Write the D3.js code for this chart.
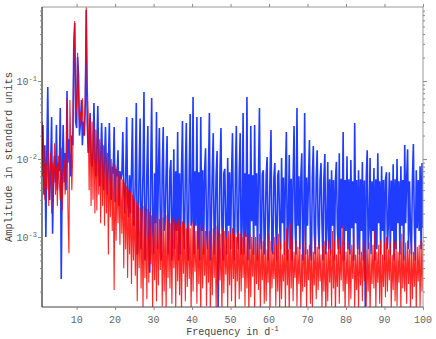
<!DOCTYPE html>
<html>
<head>
<meta charset="utf-8">
<script src="https://cdn.jsdelivr.net/npm/d3@7"></script>
<style>
    body { margin: 0; background: #fff; }
    text { font-family: 'Liberation Mono', 'DejaVu Sans Mono', monospace; }
</style>
</head>
<body>
<svg id="chart" width="436" height="339"></svg>
<script>
// both spectra are sampled on the same frequency grid (d^-1)
const freqStart = 1;
const freqStep = 0.25;

// blue spectrum, amplitude in units of 1e-4, two frequency units per row
const blueAmp = [
    190, 273, 35, 150, 10, 120, 838, 60,        // 1
    30, 80, 345, 11, 60, 110, 50, 273,          // 3
    40, 90, 70, 451, 2.9, 60, 273, 50,          // 5
    120, 40, 744, 90, 180, 100, 60, 200,        // 7
    150, 2650, 5550, 300, 250, 2030, 1200, 200, // 9
    300, 570, 150, 300, 200, 500, 8130, 300,    // 11
    120, 150, 389, 110, 80, 130, 522, 95,       // 13
    60, 140, 478, 90, 45, 110, 290, 80,         // 15
    40, 100, 257, 70, 35, 90, 290, 65,          // 17
    30, 80, 65, 257, 28, 75, 60, 130,           // 19
    25, 70, 55, 65, 222, 40, 20, 60,            // 21
    345, 30, 18, 62, 20, 70, 336, 15,           // 23
    14, 60, 522, 6, 12, 75, 330, 7,             // 25
    18, 70, 723, 5, 13, 68, 265, 8,             // 27
    3.5, 72, 605, 14, 6, 66, 15, 400,           // 29
    7, 70, 250, 15, 5, 75, 257, 12,             // 31
    16, 68, 197, 6, 10, 72, 97, 5,              // 33
    15, 134, 7, 70, 12, 222, 5, 66,             // 35
    6, 72, 307, 15, 7, 70, 290, 13,             // 37
    5, 66, 378, 14, 16, 624, 6, 70,             // 39
    14, 345, 7, 68, 5, 345, 12, 72,             // 41
    6, 70, 138, 13, 7, 68, 389, 5,              // 43
    14, 72, 215, 6, 13, 65, 127, 1.2,           // 45
    7, 70, 250, 14, 5, 66, 75, 13,              // 47
    6, 103, 14, 68, 7, 62, 215, 13,             // 49
    5, 64, 265, 12, 7, 68, 215, 6,              // 51
    14, 389, 6, 66, 10, 624, 5, 64,             // 53
    7, 265, 16, 62, 6, 273, 14, 66,             // 55
    5, 60, 451, 12, 7, 64, 72, 6,               // 57
    11, 62, 106, 5, 13, 60, 235, 7,             // 59
    6, 58, 89, 13, 5, 62, 72, 14,               // 61
    7, 103, 15, 58, 6, 60, 222, 5,              // 63
    16, 113, 7, 56, 5, 58, 265, 15,             // 65
    6, 451, 14, 60, 7, 56, 119, 5,              // 67
    12, 389, 6, 58, 14, 55, 175, 7,             // 69
    5, 58, 147, 12, 6, 56, 130, 14,             // 71
    7, 54, 89, 15, 5, 58, 116, 6,               // 73
    13, 92, 7, 55, 6, 72, 14, 54,               // 75
    5, 56, 92, 13, 7, 119, 6, 56,               // 77
    13, 222, 5, 54, 12, 109, 7, 55,             // 79
    6, 97, 13, 52, 5, 290, 15, 54,              // 81
    7, 72, 6, 55, 12, 92, 5, 53,                // 83
    1.2, 56, 130, 7, 13, 103, 6, 52,            // 85
    12, 77, 5, 55, 7, 119, 15, 52,              // 87
    6, 81, 12, 54, 5, 55, 68, 7,                // 89
    15, 68, 6, 53, 12, 86, 5, 55,               // 91
    7, 100, 15, 52, 6, 81, 14, 54,              // 93
    5, 151, 15, 55, 134, 7, 52, 12,             // 95
    6, 56, 156, 14, 5, 72, 13, 54,              // 97
    12, 81, 7, 89, 13                           // 99
];

// red spectrum, amplitude in units of 1e-4
const redAmp = [
    300, 60, 150, 30, 90, 40, 200, 25,          // 1
    70, 120, 20, 90, 45, 160, 35, 80,           // 3
    25, 110, 50, 30, 140, 22, 70, 100,          // 5
    35, 60, 600, 20, 6.2, 570, 150, 40,         // 7
    120, 2600, 5900, 350, 500, 2300, 600, 250,  // 9
    400, 300, 600, 250, 200, 700, 8900, 900,    // 11
    400, 40, 350, 25, 300, 30, 260, 20,         // 13
    240, 22, 200, 35, 180, 15, 170, 25,         // 15
    150, 14, 130, 20, 120, 6, 110, 18,          // 17
    100, 12, 90, 2.1, 85, 9, 80, 15,            // 19
    70, 8, 60, 11, 55, 4, 50, 7,                // 21
    45, 3, 40, 6, 38, 2.5, 35, 5,               // 23
    30, 3.2, 28, 1.5, 26, 4, 24, 2.2,           // 25
    22, 1.2, 25, 3, 20, 1.6, 23, 2.6,           // 27
    21, 4.5, 19, 1.1, 22, 2.8, 18, 1.5,         // 29
    20, 2.4, 17, 3.8, 21, 1.3, 18, 2,           // 31
    16, 1.1, 19, 3, 17, 2.2, 15, 1.4,           // 33
    18, 4, 16, 1.2, 15, 2.7, 17, 1.8,           // 35
    14, 1, 16, 3.4, 15, 1.5, 13, 2.3,           // 37
    15, 2.9, 13, 1.1, 16, 2, 14, 3.6,           // 39
    12, 1.4, 14, 2.5, 13, 1, 15, 2.2,           // 41
    13, 3.2, 12, 1.3, 14, 2.6, 12, 1.1,         // 43
    11, 1.8, 13, 3, 12, 1.2, 14, 2.4,           // 45
    12, 2.8, 11, 1, 13, 1.9, 12, 3.3,           // 47
    10, 1.2, 12, 2.4, 11, 1.5, 13, 2.9,         // 49
    11, 1.1, 10, 2.7, 12, 1.6, 11, 2,           // 51
    10, 3, 12, 1.3, 11, 2.2, 10, 1,             // 53
    11, 1.7, 10, 3.1, 12, 1.2, 10, 2.5,         // 55
    9.5, 2.1, 11, 1.1, 10, 2.8, 9, 1.4,         // 57
    10, 1.5, 7, 2.6, 11, 1, 9, 2.2,             // 59
    6.5, 2.9, 10, 1.3, 8, 2, 11, 1.1,           // 61
    8.5, 1.6, 6, 2.7, 9, 1.2, 13, 2.4,          // 63
    7, 1, 15, 2.2, 9.5, 1.5, 6.5, 3,            // 65
    9, 1.3, 7.5, 2.5, 8.5, 1.1, 6, 2,           // 67
    13, 2.3, 8.5, 1.2, 7, 2.8, 8, 1.4,          // 69
    9.5, 1.1, 6.5, 2.4, 10, 1.6, 7.5, 2.1,      // 71
    8.5, 2.7, 6, 1.2, 8, 2, 9, 1,               // 73
    6.5, 1.5, 9, 2.6, 7, 1.3, 12, 2.2,          // 75
    9, 1, 6, 2.3, 9.5, 1.4, 7.5, 2.8,           // 77
    14, 2, 9, 1.1, 6.5, 2.5, 8.5, 1.3,          // 79
    7, 1.6, 8, 2.9, 11, 1.2, 6, 2.1,            // 81
    8, 1.1, 9, 2.4, 6.5, 1.5, 8.5, 2.7,         // 83
    9, 1.3, 7, 2, 8.5, 1, 6, 2.5,               // 85
    8, 2.2, 12, 1.2, 6.5, 2.6, 8, 1.4,          // 87
    9, 1.1, 6, 2.3, 8.5, 1.7, 10, 2,            // 89
    7, 2.8, 8.5, 1.2, 6, 2.1, 9, 1.5,           // 91
    8.5, 1.3, 6.5, 2.6, 9, 1.1, 11, 2.2,        // 93
    6, 2, 8.5, 1.4, 9, 2.5, 7, 1.2,             // 95
    8.5, 1.6, 6.5, 2.3, 9, 1.1, 7.5, 2.7,       // 97
    8, 1.3, 9, 2, 8.5                           // 99
];

const xTicks = [10, 20, 30, 40, 50, 60, 70, 80, 90, 100];
const yMajorTicks = [1e-3, 1e-2, 1e-1];
const yTickExponents = ['-3', '-2', '-1'];

const Plot = {left: 42, right: 423, top: 7, bottom: 307};

let svg = d3.select('#chart');

let x = d3.scaleLinear().domain([1, 100]).range([Plot.left, Plot.right]);
let y = d3.scaleLog().domain([1.27e-4, 0.89]).range([Plot.bottom, Plot.top]);

function toPoints(amp) {
    return amp.map(function(a, i) { return [freqStart + i * freqStep, a * 1e-4]; });
}

svg.append('defs').append('clipPath')
    .attr('id', 'plot-clip')
    .append('rect')
    .attr('x', Plot.left)
    .attr('y', Plot.top)
    .attr('width', Plot.right - Plot.left)
    .attr('height', Plot.bottom - Plot.top);

let line = d3.line()
    .x(function(d) { return x(d[0]); })
    .y(function(d) { return y(d[1]); });

let lines = svg.append('g').attr('clip-path', 'url(#plot-clip)');

lines.append('path')
    .datum(toPoints(blueAmp))
    .attr('fill', 'none')
    .attr('stroke', '#1f3cff')
    .attr('stroke-width', 1.6)
    .attr('d', line);

lines.append('path')
    .datum(toPoints(redAmp))
    .attr('fill', 'none')
    .attr('stroke', '#ff0000')
    .attr('stroke-opacity', 0.85)
    .attr('stroke-width', 1.1)
    .attr('d', line);

// frame
svg.append('line').attr('x1', Plot.left).attr('x2', Plot.right).attr('y1', Plot.top).attr('y2', Plot.top)
    .attr('stroke', '#999');
svg.append('line').attr('x1', Plot.right).attr('x2', Plot.right).attr('y1', Plot.top).attr('y2', Plot.bottom)
    .attr('stroke', '#999');
svg.append('line').attr('x1', Plot.left).attr('x2', Plot.right).attr('y1', Plot.bottom).attr('y2', Plot.bottom)
    .attr('stroke', '#444');
svg.append('line').attr('x1', Plot.left).attr('x2', Plot.left).attr('y1', Plot.top).attr('y2', Plot.bottom)
    .attr('stroke', '#000');

// x ticks on bottom and top
let xAxisBottom = d3.axisBottom(x).tickValues(xTicks).tickSize(3).tickFormat('');
let xAxisTop = d3.axisTop(x).tickValues(xTicks).tickSize(3).tickFormat('');
svg.append('g').attr('transform', 'translate(0,' + Plot.bottom + ')').call(xAxisBottom);
svg.append('g').attr('transform', 'translate(0,' + Plot.top + ')').call(xAxisTop);

// log y ticks on left and right, minor ticks shorter
let yAll = y.ticks().filter(function(v) { return v >= y.domain()[0] && v <= y.domain()[1]; });
let isMajor = function(v) { return Math.abs(Math.log10(v) - Math.round(Math.log10(v))) < 1e-6; };
let yMinor = yAll.filter(function(v) { return !isMajor(v); });

svg.append('g').attr('transform', 'translate(' + Plot.left + ',0)')
    .call(d3.axisLeft(y).tickValues(yMinor).tickSize(2).tickFormat(''));
svg.append('g').attr('transform', 'translate(' + Plot.left + ',0)')
    .call(d3.axisLeft(y).tickValues(yMajorTicks).tickSize(4).tickFormat(''));
svg.append('g').attr('transform', 'translate(' + Plot.right + ',0)')
    .call(d3.axisRight(y).tickValues(yMinor).tickSize(2).tickFormat(''));
svg.append('g').attr('transform', 'translate(' + Plot.right + ',0)')
    .call(d3.axisRight(y).tickValues(yMajorTicks).tickSize(4).tickFormat(''));

svg.selectAll('.domain').remove();
svg.selectAll('.tick line').attr('stroke', '#888');

// tick labels
svg.append('g').selectAll('text')
    .data(xTicks)
    .enter()
    .append('text')
    .attr('x', function(d) { return x(d); })
    .attr('y', 323)
    .attr('text-anchor', 'middle')
    .attr('font-size', 10)
    .attr('fill', '#666')
    .text(function(d) { return d; });

let yLabels = svg.append('g').selectAll('text')
    .data(yMajorTicks)
    .enter()
    .append('text')
    .attr('x', 37)
    .attr('y', function(d) { return y(d) + 3.5; })
    .attr('text-anchor', 'end')
    .attr('font-size', 10)
    .attr('fill', '#666');
yLabels.append('tspan').text('10');
yLabels.append('tspan')
    .attr('dy', -4)
    .attr('font-size', 7)
    .text(function(d, i) { return yTickExponents[i]; });

// axis titles
let xTitle = svg.append('text')
    .attr('x', (Plot.left + Plot.right) / 2)
    .attr('y', 335)
    .attr('text-anchor', 'middle')
    .attr('font-size', 10)
    .attr('fill', '#444');
xTitle.append('tspan').text('Frequency in d');
xTitle.append('tspan').attr('dy', -4).attr('font-size', 7).text('-1');

svg.append('text')
    .attr('transform', 'translate(12,' + (Plot.top + Plot.bottom) / 2 + ') rotate(-90)')
    .attr('text-anchor', 'middle')
    .attr('font-size', 10.5)
    .attr('fill', '#444')
    .text('Amplitude in standard units');
</script>
</body>
</html>
